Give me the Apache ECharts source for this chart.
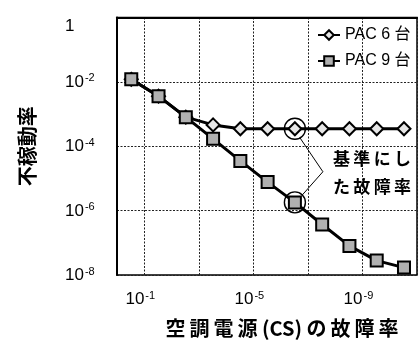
<!DOCTYPE html>
<html>
<head>
<meta charset="utf-8">
<script src="https://cdn.jsdelivr.net/npm/echarts@6/dist/echarts.min.js"></script>
<style>
  html, body { margin: 0; padding: 0; background: #fff; }
  #chart { width: 420px; height: 343px; }
</style>
</head>
<body>
<div id="chart"></div>
<script>
// Unavailability of the system versus air-conditioning power supply (CS) failure rate
const seriesNames = ['PAC 6 台', 'PAC 9 台'];
const csFailureRate = [3e-1, 3e-2, 3e-3, 3e-4, 3e-5, 3e-6, 3e-7, 3e-8, 3e-9, 3e-10, 3e-11];
const pac6Unavailability = [1.2e-2, 3.6e-3, 8e-4, 4.6e-4, 3.5e-4, 3.5e-4, 3.5e-4, 3.5e-4, 3.5e-4, 3.5e-4, 3.5e-4];
const pac9Unavailability = [1.2e-2, 3.6e-3, 8e-4, 1.7e-4, 3.5e-5, 7.7e-6, 1.8e-6, 3.7e-7, 8e-8, 2.8e-8, 1.7e-8];
const xLabelExponents = [-1, -5, -9];
const yLabelExponents = [0, -2, -4, -6, -8];
const referenceIndex = 6;
const noteLines = ['基準にし', 'た故障率'];
const xTitle = '空調電源 (CS) の故障率';
const yTitle = '不稼動率';

const LATIN = "'Liberation Sans','Noto Sans CJK JP',sans-serif";
const CJK = "'Noto Sans CJK JP',sans-serif";
const THIN = '\u2009';

// open up CJK runs a little with thin spaces between neighbouring ideographs/kana
const spaced = s => s.replace(/([\u3040-\u30ff\u4e00-\u9fff])(?=[\u3040-\u30ff\u4e00-\u9fff])/g, '$1' + THIN);

// both axes work on decade exponents (log10 of the rates)
const toPoints = ys => csFailureRate.map((x, i) => [Math.log10(x), Math.log10(ys[i])]);
const pac6Points = toPoints(pac6Unavailability);
const pac9Points = toPoints(pac9Unavailability);

function powLabel(exp) {
  return exp === 0 ? '{one|1}' : '{b|10}{e|' + exp + '}';
}
const powRich = {
  b: { fontFamily: LATIN, fontSize: 17, color: '#000', lineHeight: 18, verticalAlign: 'bottom' },
  e: { fontFamily: LATIN, fontSize: 11, color: '#000', lineHeight: 11, verticalAlign: 'top', padding: [0, 0, 0, 1] },
  one: { fontFamily: LATIN, fontSize: 17, color: '#000', lineHeight: 18, padding: [18, 0, 0, 0] }
};

const gridDots = { color: '#222', width: 1, type: [2, 1.5] };

const chart = echarts.init(document.getElementById('chart'), null, { renderer: 'canvas' });

const refMark = (pt) => ({
  symbol: 'circle',
  symbolSize: 21,
  silent: true,
  label: { show: false },
  itemStyle: { color: 'rgba(0,0,0,0)', borderColor: '#000', borderWidth: 1.4 },
  data: [{ coord: pt }]
});

chart.setOption({
  animation: false,
  backgroundColor: '#fff',
  grid: { left: 117, top: 12, width: 307, height: 266, show: true, borderColor: '#000', borderWidth: 1.5 },
  legend: {
    orient: 'vertical',
    left: 312,
    top: 22,
    itemWidth: 22,
    itemHeight: 12,
    itemGap: 10,
    textStyle: { fontFamily: LATIN, fontSize: 16, color: '#000' },
    data: seriesNames
  },
  xAxis: {
    type: 'value',
    min: -11,
    max: 0,
    interval: 2,
    inverse: true,
    axisLine: { lineStyle: { color: '#000', width: 2 } },
    axisTick: { show: false },
    splitLine: { show: true, lineStyle: gridDots },
    axisLabel: {
      margin: 15,
      padding: [0, 8, 0, 0],
      formatter: v => {
        const e = Math.round(v);
        return xLabelExponents.includes(e) ? powLabel(e) : '';
      },
      rich: powRich
    },
    name: spaced(xTitle),
    nameLocation: 'middle',
    nameGap: 43,
    nameTextStyle: { fontFamily: CJK, fontWeight: 'bold', fontSize: 20, color: '#000', padding: [0, 0, 0, 30] }
  },
  yAxis: {
    type: 'value',
    min: -8,
    max: 0,
    interval: 2,
    axisLine: { lineStyle: { color: '#000', width: 2 } },
    axisTick: { show: false },
    splitLine: { show: true, lineStyle: gridDots },
    axisLabel: {
      align: 'left',
      margin: 52,
      formatter: v => {
        const e = Math.round(v);
        return yLabelExponents.includes(e) ? powLabel(e) : '';
      },
      rich: powRich
    },
    name: yTitle,
    nameLocation: 'middle',
    nameGap: 80,
    nameRotate: 90,
    nameTextStyle: { fontFamily: CJK, fontWeight: 'bold', fontSize: 20, color: '#000' }
  },
  series: [
    {
      name: seriesNames[0],
      type: 'line',
      data: pac6Points,
      symbol: 'diamond',
      symbolSize: 13,
      lineStyle: { color: '#000', width: 3 },
      itemStyle: { color: '#e6e6e6', borderColor: '#000', borderWidth: 2 },
      emphasis: { disabled: true },
      markPoint: refMark(pac6Points[referenceIndex]),
      z: 2
    },
    {
      name: seriesNames[1],
      type: 'line',
      data: pac9Points,
      symbol: 'rect',
      symbolSize: 12,
      lineStyle: { color: '#000', width: 3 },
      itemStyle: { color: '#b0b0b0', borderColor: '#000', borderWidth: 2 },
      emphasis: { disabled: true },
      markPoint: refMark(pac9Points[referenceIndex]),
      z: 3
    }
  ]
});

// leader line and note pointing at the two reference points
const upper = chart.convertToPixel({ gridIndex: 0 }, pac6Points[referenceIndex]);
const lower = chart.convertToPixel({ gridIndex: 0 }, pac9Points[referenceIndex]);
chart.setOption({
  graphic: [
    {
      type: 'polyline',
      silent: true,
      z: 10,
      shape: { points: [[upper[0] + 5, upper[1] + 9], [upper[0] + 28, upper[1] + 43], [lower[0] + 7, lower[1] - 7]] },
      style: { stroke: '#000', lineWidth: 1, fill: null }
    },
    {
      type: 'text',
      silent: true,
      z: 10,
      x: upper[0] + 38,
      y: upper[1] + 16,
      style: {
        text: noteLines.map(spaced).join('\n'),
        fontFamily: CJK,
        fontWeight: 'bold',
        fontSize: 17,
        lineHeight: 28,
        fill: '#000',
        verticalAlign: 'top'
      }
    }
  ]
});
</script>
</body>
</html>
